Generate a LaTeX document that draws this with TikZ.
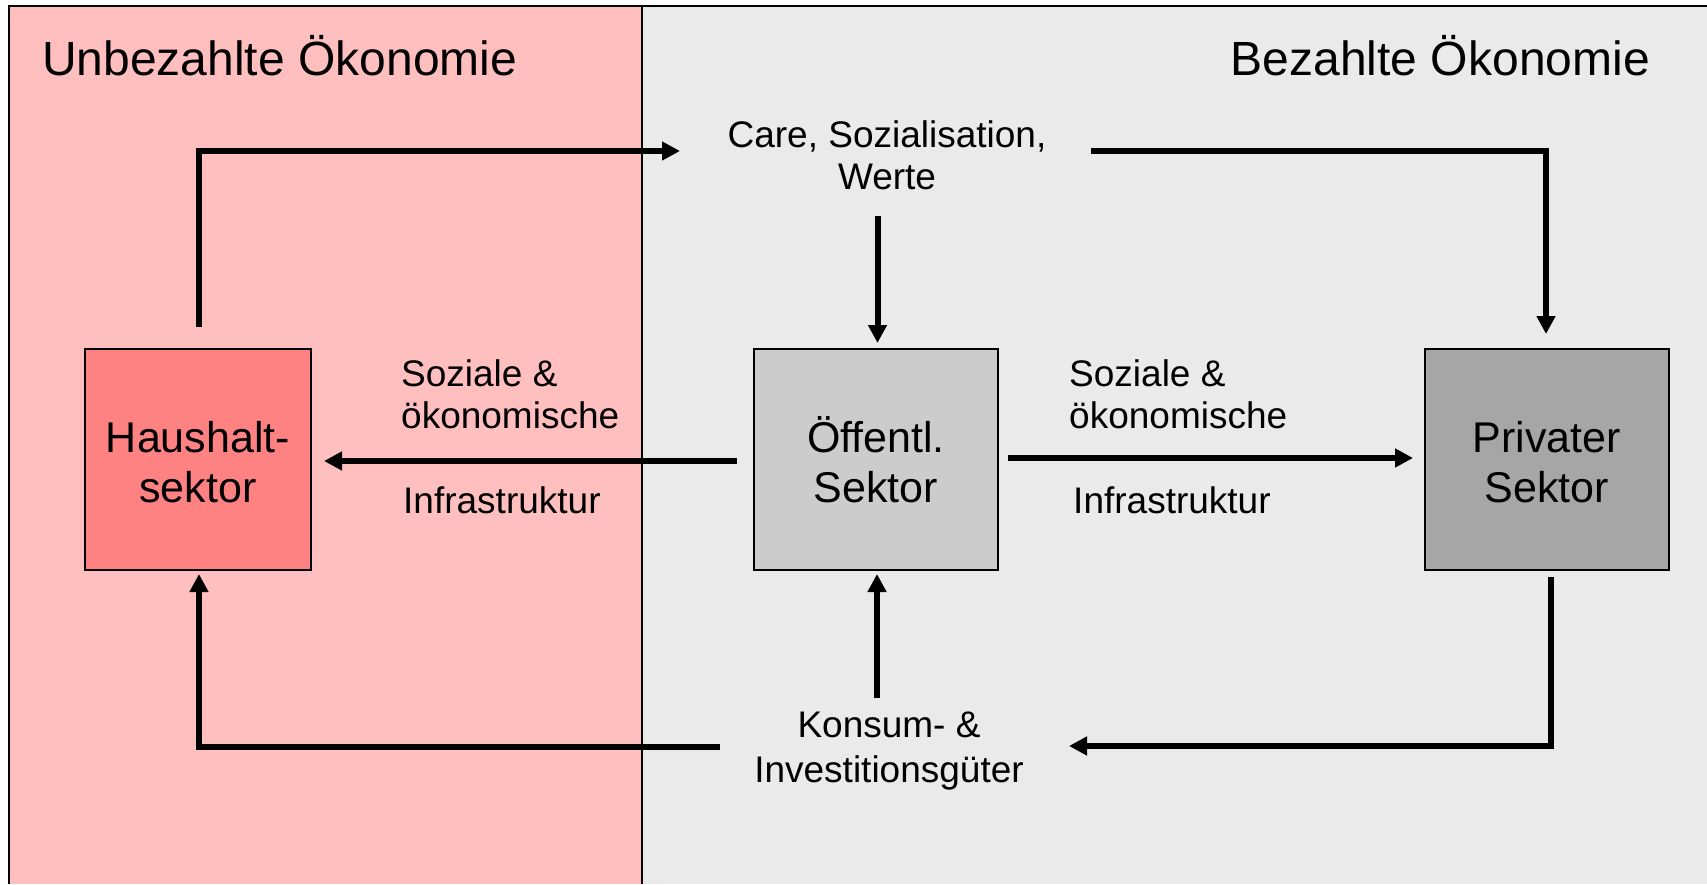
\documentclass[tikz,border=0pt]{standalone}
\usepackage{fontspec}
\setmainfont{Liberation Sans}
\usetikzlibrary{arrows.meta}
\definecolor{pinkbg}{HTML}{FFBFBF}
\definecolor{graybg}{HTML}{EAEAEA}
\definecolor{hhfill}{HTML}{FF8282}
\definecolor{oefill}{HTML}{CCCCCC}
\definecolor{prfill}{HTML}{A6A6A6}
\begin{document}
\begin{tikzpicture}[x=1pt,y=-1pt,
  sector/.style={draw=black,line width=2pt,minimum width=#1,minimum height=221pt,inner sep=0pt},
  boxtxt/.style={font=\fontsize{43}{50}\selectfont,anchor=base,inner sep=0pt},
  lbl/.style={font=\fontsize{37}{43}\selectfont,inner sep=0pt},
  ttl/.style={font=\fontsize{48}{55}\selectfont,inner sep=0pt},
  flow/.style={line width=6pt,-{Triangle[length=18pt,width=18pt]},line join=miter},
  ]
\useasboundingbox (0,0) rectangle (1707,884);
% backgrounds
\fill[pinkbg] (9,6) rectangle (642,884);
\fill[graybg] (642,6) rectangle (1707,884);
\draw[line width=2pt] (9,884) -- (9,6) -- (1707,6);
\draw[line width=1.5pt] (642,6) -- (642,884);
% titles
\node[ttl,anchor=base west] (t1) at (42,75) {Unbezahlte Ökonomie};
\node[ttl,anchor=base east] (t2) at (1650,75) {Bezahlte Ökonomie};
% sector boxes
\node[sector=226pt,fill=hhfill] (hh) at (198,459) {};
\node[sector=244pt,fill=oefill] (oe) at (876,459) {};
\node[sector=244pt,fill=prfill] (pr) at (1547,459) {};
\node[boxtxt] (hh1) at (198,452) {Haushalt-};
\node[boxtxt] (hh2) at (198,502) {sektor};
\node[boxtxt] (oe1) at (876,452) {Öffentl.};
\node[boxtxt] (oe2) at (876,502) {Sektor};
\node[boxtxt] (pr1) at (1547,452) {Privater};
\node[boxtxt] (pr2) at (1547,502) {Sektor};
% flow labels
\node[lbl,anchor=base] (care1) at (887,147) {Care, Sozialisation,};
\node[lbl,anchor=base] (care2) at (887,189) {Werte};
\node[lbl,anchor=base] (ko1) at (889,737) {Konsum- \&};
\node[lbl,anchor=base] (ko2) at (889,782) {Investitionsgüter};
\node[lbl,anchor=base west] (ls1) at (401,386) {Soziale \&};
\node[lbl,anchor=base west] (ls2) at (401,428) {ökonomische};
\node[lbl,anchor=base west] (ls3) at (403,513) {Infrastruktur};
\node[lbl,anchor=base west] (rs1) at (1069,386) {Soziale \&};
\node[lbl,anchor=base west] (rs2) at (1069,428) {ökonomische};
\node[lbl,anchor=base west] (rs3) at (1073,513) {Infrastruktur};
% connector end points
\coordinate (hhout) at (198.5,327);
\coordinate (carein) at (680,151);
\coordinate (careout) at (1091,151);
\coordinate (prin) at (1546,334);
\coordinate (caredown) at (877.5,216);
\coordinate (oein) at (877.5,343);
\coordinate (oeleft) at (737,461);
\coordinate (hhin) at (324,461);
\coordinate (oeright) at (1008,458);
\coordinate (prinl) at (1413,458);
\coordinate (prout) at (1551,577);
\coordinate (koin) at (1069,746);
\coordinate (koup) at (877,698);
\coordinate (oeinb) at (877,574);
\coordinate (koout) at (720,747);
\coordinate (hhinb) at (199,574);
% connectors
\draw[flow] (hhout) |- (carein);
\draw[flow] (careout) -| (prin);
\draw[flow] (caredown) -- (oein);
\draw[flow] (oeleft) -- (hhin);
\draw[flow] (oeright) -- (prinl);
\draw[flow] (prout) |- (koin);
\draw[flow] (koup) -- (oeinb);
\draw[flow] (koout) -| (hhinb);
\end{tikzpicture}
\end{document}
